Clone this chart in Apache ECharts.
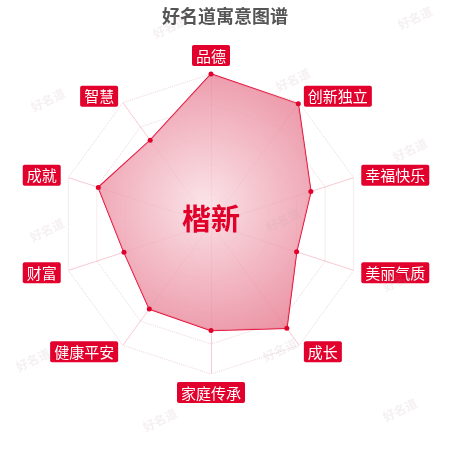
<!DOCTYPE html>
<html><head><meta charset="utf-8">
<script src="https://cdn.jsdelivr.net/npm/echarts@6/dist/echarts.min.js"></script>
<style>html,body{margin:0;padding:0;background:#fff}#c{width:450px;height:450px}</style>
</head><body><div id="c"></div>
<script>
// Indicators in ECharts (counter-clockwise from top) order
const indicatorNames = ['品德','智慧','成就','财富','健康平安','家庭传承','成长','美丽气质','幸福快乐','创新独立'];
const scores = [100, 69, 79, 61, 70, 71, 86, 60, 70, 99];
const maxScore = 100;
const titleText = '好名道寓意图谱';
const centerName = '楷新';
const watermarkText = '好名道';

const chart = echarts.init(document.getElementById('c'));
const wmPos = [[170,27],[415,18],[48,100],[293,80],[410,150],[47,230],[283,220],[400,280],[33,360],[280,350],[160,420],[400,410]];
chart.setOption({
  animation:false,
  title:{text:titleText,left:'center',top:2,textStyle:{fontSize:18,fontWeight:'bold',color:'#555',fontFamily:'Noto Sans CJK SC'}},
  graphic: wmPos.map(p=>({type:'text',x:p[0],y:p[1],rotation:Math.PI/7,z:100,
     style:{text:watermarkText,fill:'rgba(190,160,165,0.16)',font:'bold 12px "Noto Sans CJK SC"',align:'center',verticalAlign:'middle'}}))
   .concat([{type:'text',x:211,y:219,z:50,style:{text:centerName,fill:'#e0002a',font:'bold 29px "Noto Sans CJK SC"',align:'center',verticalAlign:'middle'}}]),
  radar:{
    center:[211,224], radius:150, startAngle:90, splitNumber:5,
    indicator: indicatorNames.map(n=>({name:n,max:maxScore})),
    axisName:{color:'#fff',backgroundColor:'#e2002c',borderRadius:2,padding:[2,4,1,4],fontSize:15,fontFamily:'Noto Sans CJK SC',lineHeight:18},
    nameGap:8,
    axisLine:{lineStyle:{color:'rgba(230,80,110,0.35)',type:'dotted'}},
    splitLine:{lineStyle:{color:'rgba(220,180,190,0.55)',type:'dotted'}},
    splitArea:{show:false}
  },
  series:[{type:'radar',symbol:'circle',symbolSize:5,
    itemStyle:{color:'#e2002c'},
    lineStyle:{color:'#e2002c',width:1.5},
    areaStyle:{color:new echarts.graphic.RadialGradient(0.5,0.5,0.7,[{offset:0,color:'rgba(250,222,228,1)'},{offset:1,color:'rgba(232,128,148,1)'}],false), opacity:0.85},
    data:[{value:scores,name:centerName}]
  }]
});
</script></body></html>
